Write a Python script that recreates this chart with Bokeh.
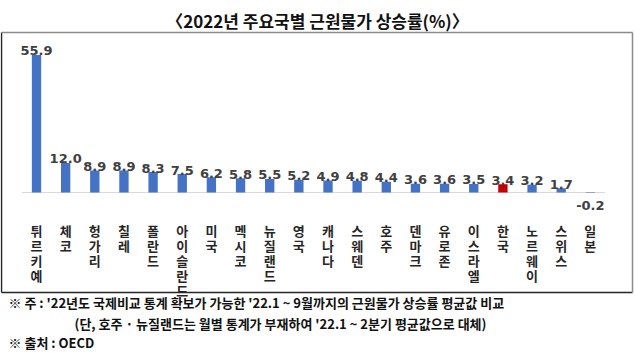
from bokeh.plotting import figure
from bokeh.models import ColumnDataSource, Range1d, Label
from bokeh.core.properties import value
from bokeh.embed import file_html
from bokeh.resources import INLINE

# ---- data ----
countries = ["튀르키예", "체코", "헝가리", "칠레", "폴란드", "아이슬란드", "미국", "멕시코",
             "뉴질랜드", "영국", "캐나다", "스웨덴", "호주", "덴마크", "유로존", "이스라엘",
             "한국", "노르웨이", "스위스", "일본"]
rates = [55.9, 12.0, 8.9, 8.9, 8.3, 7.5, 6.2, 5.8, 5.5, 5.2,
         4.9, 4.8, 4.4, 3.6, 3.6, 3.5, 3.4, 3.2, 1.7, -0.2]
highlight = "한국"

title_text = "〈2022년 주요국별 근원물가 상승률(%)〉"
note1 = "※  주 : '22년도 국제비교 통계 확보가 가능한 '22.1 ~ 9월까지의 근원물가 상승률 평균값 비교"
note2 = "(단, 호주 · 뉴질랜드는 월별 통계가 부재하여 '22.1 ~ 2분기 평균값으로 대체)"
note3 = "※ 출처 : OECD"

# ---- layout (pixels) ----
W, H = 635, 353
PX0, DX = 36.0, 29.15      # first category centre / spacing
BASE, DY = 192.0, 2.46     # baseline y (from top) / px per unit

def dx(px):
    return (px - PX0) / DX

def dy(py):
    return (BASE - py) / DY

p = figure(width=W, height=H, output_backend="svg", toolbar_location=None,
           x_axis_type=None, y_axis_type=None,
           x_range=Range1d(dx(0), dx(W)), y_range=Range1d(dy(H), dy(0)),
           min_border=0, outline_line_color=None, background_fill_color="white")
p.grid.visible = False

idx = list(range(len(countries)))
colors = ["#C00000" if c == highlight else "#4472C4" for c in countries]
labels = ["%.1f" % v for v in rates]
vert = ["\n".join(c) for c in countries]

src = ColumnDataSource(dict(x=idx, top=rates, color=colors, lab=labels, vert=vert))

# baseline
p.segment(x0=[-0.5], y0=[0], x1=[len(countries) - 0.5], y1=[0],
          line_color="#D9D9D9", line_width=1.2)

# bars
p.vbar(x="x", top="top", bottom=0, width=0.32, fill_color="color",
       line_color=None, source=src)

# value labels
lab_pos = ColumnDataSource(dict(x=[i for i in idx if rates[i] >= 0],
                                y=[rates[i] for i in idx if rates[i] >= 0],
                                t=[labels[i] for i in idx if rates[i] >= 0]))
lab_neg = ColumnDataSource(dict(x=[i for i in idx if rates[i] < 0],
                                y=[rates[i] for i in idx if rates[i] < 0],
                                t=[labels[i] for i in idx if rates[i] < 0]))
p.text(x="x", y="y", text="t", source=lab_pos, text_align="center",
       text_baseline="alphabetic", y_offset=-4, text_font=value("DejaVu Sans"),
       text_font_style="bold", text_font_size="13px", text_color="#404040")
p.text(x="x", y="y", text="t", source=lab_neg, text_align="center",
       text_baseline="top", y_offset=8, text_font=value("DejaVu Sans"),
       text_font_style="bold", text_font_size="13px", text_color="#404040")

# category labels (vertical stacked syllables)
p.text(x="x", y=dy(220), text="vert", source=src, text_align="center",
       text_baseline="top", text_font=value("Noto Sans CJK KR"),
       text_font_style="bold", text_font_size="13px", text_color="#262626",
       text_line_height=0.79)

# frame box
p.segment(x0=[dx(1), dx(1)], y0=[dy(32), dy(292)], x1=[dx(1), dx(632)], y1=[dy(292), dy(292)],
          line_color="#262626", line_width=1.5)
p.segment(x0=[dx(1), dx(632)], y0=[dy(32), dy(32)], x1=[dx(632), dx(632)], y1=[dy(32), dy(292)],
          line_color="#8C8C8C", line_width=1.5)

# title and notes
p.add_layout(Label(x=dx(317), y=dy(20), text=title_text, text_align="center",
                   text_baseline="middle", text_font="Noto Sans CJK KR",
                   text_font_style="bold", text_font_size="17px", text_color="#111111"))
for txt, px, py in [(note1, 8, 302), (note2, 74, 323), (note3, 8, 342)]:
    p.add_layout(Label(x=dx(px), y=dy(py), text=txt, text_align="left",
                       text_baseline="middle", text_font="Noto Sans CJK KR",
                       text_font_style="bold", text_font_size="13px", text_color="#111111"))

open("out.html", "w").write(file_html(p, INLINE))
